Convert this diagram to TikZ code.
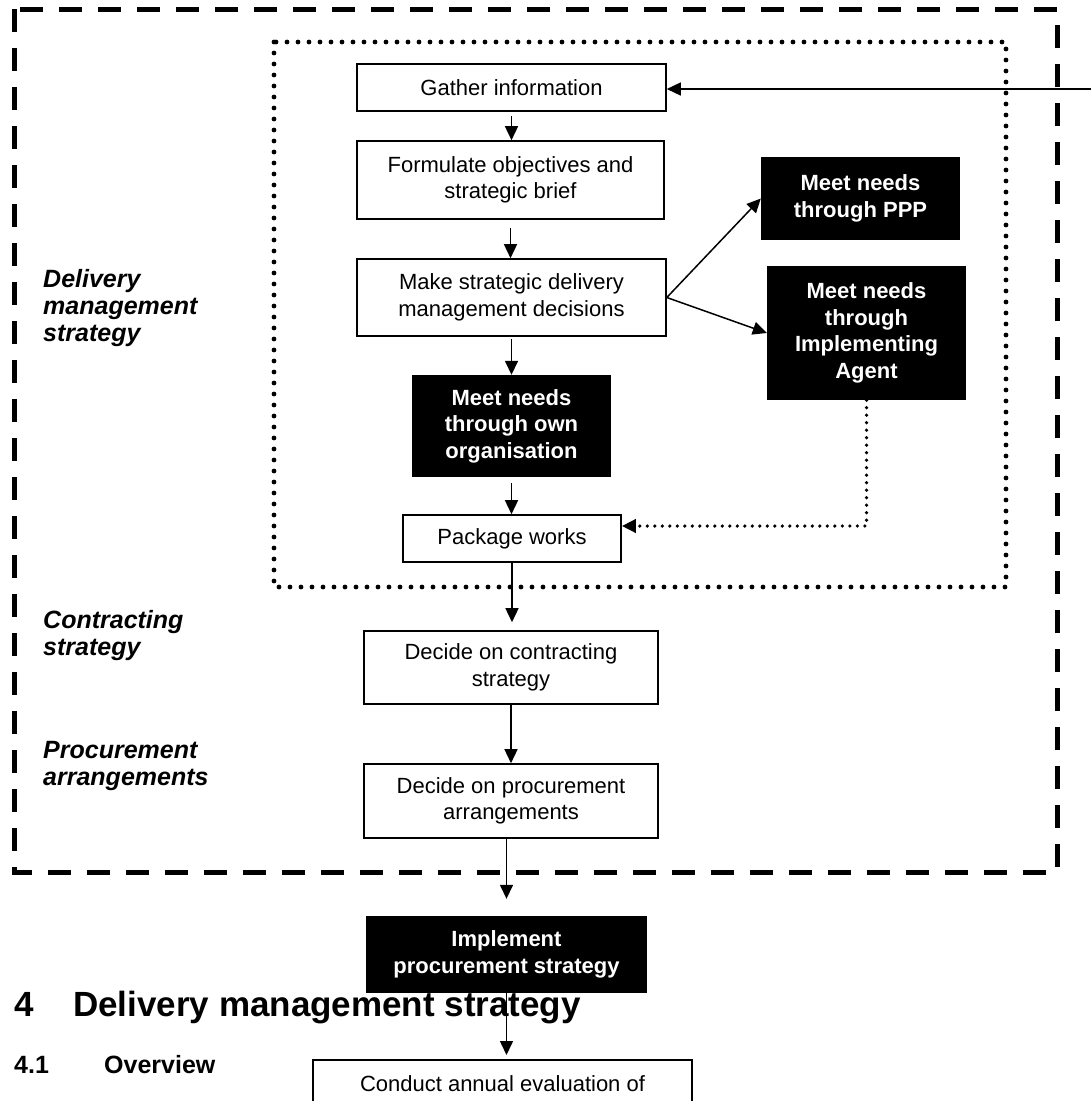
\documentclass[tikz,border=0pt]{standalone}
\usepackage{fontspec}
\setmainfont{Liberation Sans}
\usepackage{xcolor}
\usepackage{tikz}
\usetikzlibrary{arrows.meta,positioning}
\definecolor{ink}{HTML}{000000}
\newcommand\bxfont{\fontsize{22}{26.5}\selectfont}
\newcommand\sidefont{\fontsize{25}{27}\selectfont\bfseries\itshape}
\newcommand\headfont{\fontsize{35}{40}\selectfont\bfseries}
\newcommand\subheadfont{\fontsize{25}{30}\selectfont\bfseries}
\tikzset{
  wbox/.style={draw=ink,fill=white,line width=1.6pt,inner sep=0pt,
               align=center,font=\bxfont},
  bbox/.style={fill=ink,text=white,inner sep=0pt,align=center,
               font=\bxfont\bfseries},
  flow/.style={-{Triangle[length=14pt,width=13pt]},line width=1.5pt,ink},
  dotflow/.style={-{Triangle[length=14pt,width=13pt]},line width=3.6pt,ink,
                  line cap=round,dash pattern=on 0pt off 7.5pt},
  outerframe/.style={ink,line width=5pt,dash pattern=on 23pt off 16pt},
  innerframe/.style={ink,line width=4.8pt,line cap=round,
                     dash pattern=on 0pt off 11pt},
  sidelbl/.style={anchor=base west,align=left,inner sep=0pt,font=\sidefont},
}

\begin{document}
\begin{tikzpicture}[x=1pt,y=-1pt]
  \useasboundingbox (0,0) rectangle (1091,1101);

  % Section headings behind the flow
  \node[anchor=base west,inner sep=0pt,font=\headfont] (hnum) at (14,1016) {4};
  \node[anchor=base west,inner sep=0pt,font=\headfont] (htitle) at (73,1016)
    {Delivery management strategy};
  \node[anchor=base west,inner sep=0pt,font=\subheadfont] (snum) at (14,1073) {4.1};
  \node[anchor=base west,inner sep=0pt,font=\subheadfont] (stitle) at (104,1073)
    {Overview};

  % Frames
  \draw[outerframe](14,9)rectangle(1057,872);
  \draw[innerframe](274,42)rectangle(1006,587);

  % Side labels (base = last line)
  \node[sidelbl] (lbldms) at (43,341) {Delivery\\management\\strategy};
  \node[sidelbl] (lblcs) at (43,655) {Contracting\\strategy};
  \node[sidelbl] (lblpa) at (43,785) {Procurement\\arrangements};

  % Main column
  \node[wbox,minimum width=309pt,minimum height=47pt] (gather) at (511.5,87.5)
    {Gather information};
  \node[wbox,minimum width=307pt,minimum height=78pt] (formulate) at (510.5,180)
    {Formulate objectives and\\strategic brief};
  \node[wbox,minimum width=309pt,minimum height=77pt] (make) at (511.5,297.5)
    {Make strategic delivery\\management decisions};
  \node[bbox,minimum width=199pt,minimum height=102pt] (own) at (511.5,426)
    {Meet needs\\through own\\organisation};
  \node[wbox,minimum width=218pt,minimum height=47pt] (pkg) at (512,538.5)
    {Package works};
  \node[wbox,minimum width=294pt,minimum height=73pt] (contract) at (511,667.5)
    {Decide on contracting\\strategy};
  \node[wbox,minimum width=294pt,minimum height=74pt] (procure) at (511,801)
    {Decide on procurement\\arrangements};
  \node[bbox,minimum width=281pt,minimum height=77pt] (implement) at (506.5,954.5)
    {Implement\\procurement strategy};
  \node[wbox,anchor=north,minimum width=379pt,inner ysep=16pt,text depth=60pt]
    (conduct) at (502.5,1059) {Conduct annual evaluation of};

  % Side options
  \node[bbox,minimum width=199pt,minimum height=83pt] (ppp) at (860.5,198.5)
    {Meet needs\\through PPP};
  \node[bbox,minimum width=199pt,minimum height=134pt] (agent) at (866.5,333)
    {Meet needs\\through\\Implementing\\Agent};

  % Connectors
  \draw[flow,shorten <=4pt](gather.south)--(gather.south|-formulate.north);
  \draw[flow,shorten <=8pt](formulate.south)--(formulate.south|-make.north);
  \draw[flow,shorten <=2pt](make.south)--(make.south|-own.north);
  \draw[flow,shorten <=6pt](own.south)--(own.south|-pkg.north);
  \draw[flow,shorten >=8pt](pkg.south)--(pkg.south|-contract.north);
  \draw[flow](contract.south)--(contract.south|-procure.north);
  \draw[flow,shorten >=17pt](procure.south-|implement.north)--(implement.north);
  \draw[flow,shorten >=4pt](implement.south)--(implement.south|-conduct.north);
  \draw[flow](make.east)--(ppp.west);
  \draw[flow](make.east)--(agent.west);

  % Feedback into gather, and agent back to packaging
  \coordinate (fbin) at (1100,89);
  \draw[flow](fbin)--(fbin-|gather.east);
  \coordinate (agbend) at (866.5,526);
  \draw[dotflow](agent.south)--(agbend)--(agbend-|pkg.east);
\end{tikzpicture}
\end{document}
